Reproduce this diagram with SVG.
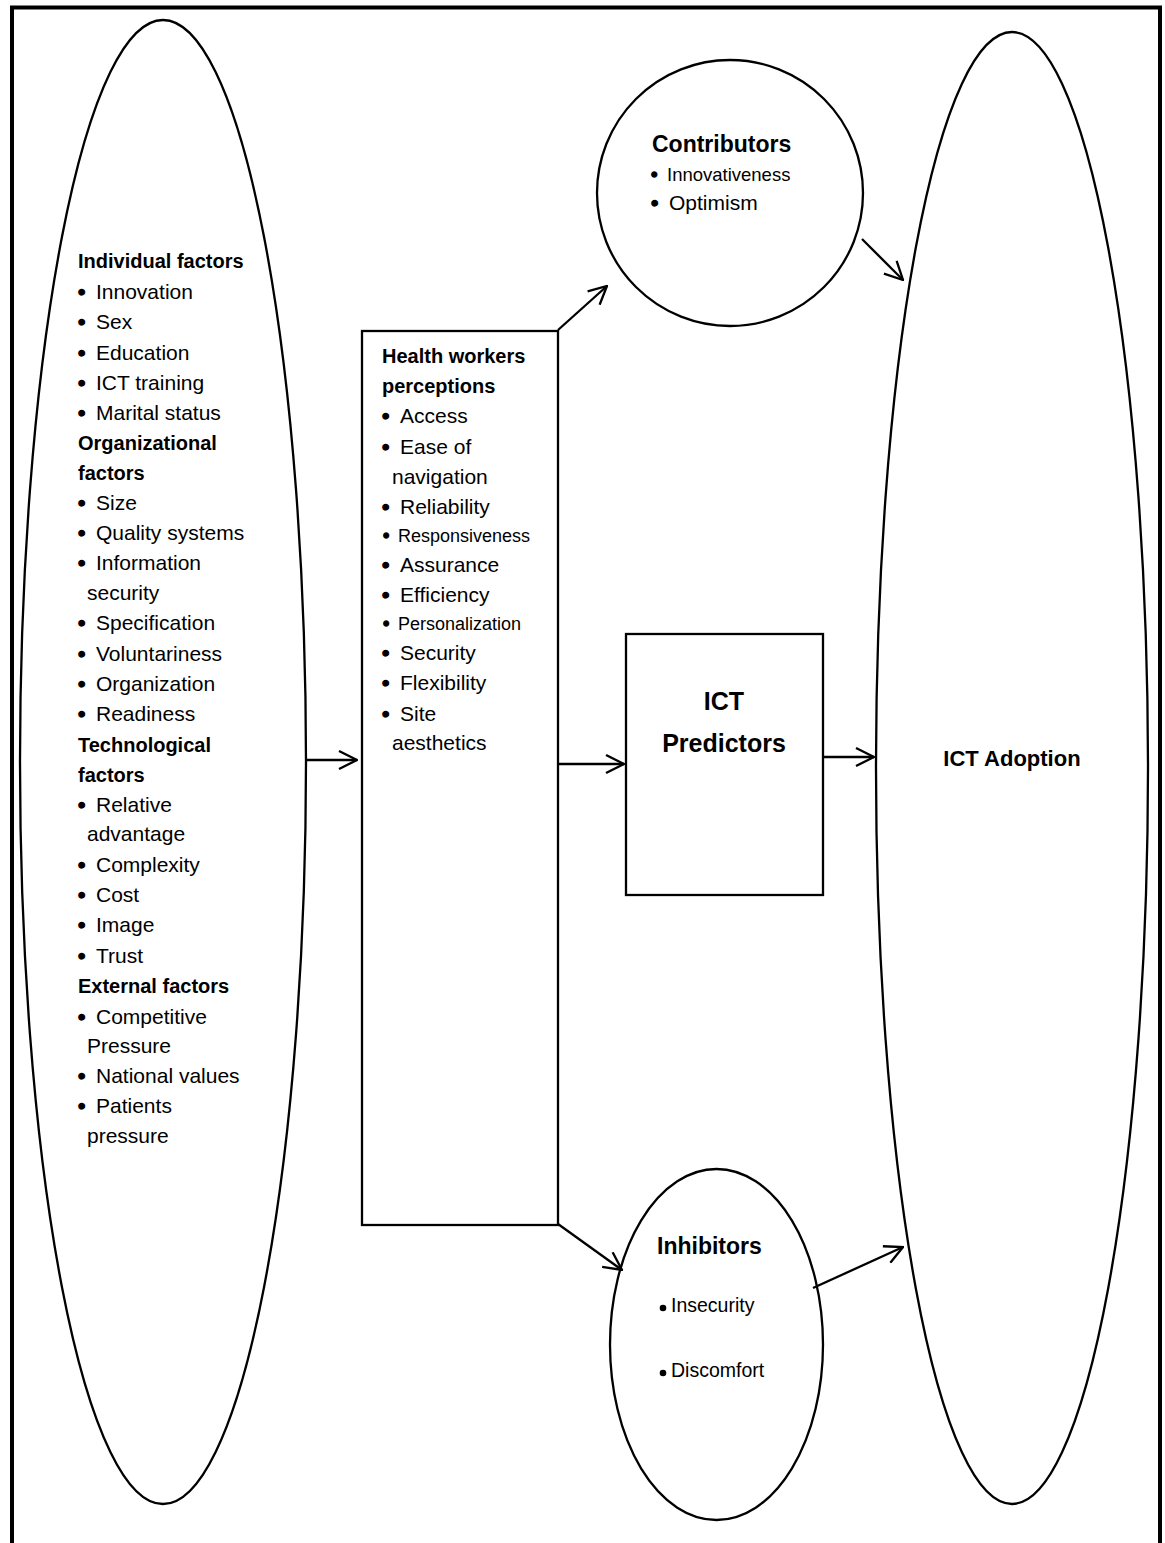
<svg xmlns="http://www.w3.org/2000/svg" width="1165" height="1543" viewBox="0 0 1165 1543">
<defs>
<style>
.sh{fill:#fff;stroke:#000;stroke-width:2.3}
.cn{stroke:#000;stroke-width:2.3;fill:none}
text{font-family:"Liberation Sans",Arial,sans-serif;fill:#000}
.b{font-weight:bold}
.r{font-size:21px}
.h{font-size:20px;font-weight:bold}
.s{font-size:18px}
.bu{stroke:#000;stroke-width:1.3}
</style>
<marker id="ah" viewBox="0 0 20 20" refX="19" refY="10" markerWidth="20" markerHeight="20" markerUnits="userSpaceOnUse" orient="auto">
<path d="M1,1 L19,10 L1,19" fill="none" stroke="#000" stroke-width="2.3"/>
</marker>
</defs>
<rect width="1165" height="1543" fill="#fff"/>
<path d="M12,1543 V7.5 H1160 V1543" fill="none" stroke="#000" stroke-width="4"/>

<g id="individual-factors">
<ellipse class="sh" cx="163" cy="762" rx="143" ry="742"/>
<text class="h" x="78" y="268">Individual factors</text>
<g class="r">
<text y="299"><tspan class="bu" x="78">•</tspan><tspan x="96">Innovation</tspan></text>
<text y="329"><tspan class="bu" x="78">•</tspan><tspan x="96">Sex</tspan></text>
<text y="360"><tspan class="bu" x="78">•</tspan><tspan x="96">Education</tspan></text>
<text y="390"><tspan class="bu" x="78">•</tspan><tspan x="96">ICT training</tspan></text>
<text y="420"><tspan class="bu" x="78">•</tspan><tspan x="96">Marital status</tspan></text>
</g>
<text class="h" x="78" y="450">Organizational</text>
<text class="h" x="78" y="480">factors</text>
<g class="r">
<text y="510"><tspan class="bu" x="78">•</tspan><tspan x="96">Size</tspan></text>
<text y="540"><tspan class="bu" x="78">•</tspan><tspan x="96">Quality systems</tspan></text>
<text y="570"><tspan class="bu" x="78">•</tspan><tspan x="96">Information</tspan></text>
<text x="87" y="600">security</text>
<text y="630"><tspan class="bu" x="78">•</tspan><tspan x="96">Specification</tspan></text>
<text y="661"><tspan class="bu" x="78">•</tspan><tspan x="96">Voluntariness</tspan></text>
<text y="691"><tspan class="bu" x="78">•</tspan><tspan x="96">Organization</tspan></text>
<text y="721"><tspan class="bu" x="78">•</tspan><tspan x="96">Readiness</tspan></text>
</g>
<text class="h" x="78" y="752">Technological</text>
<text class="h" x="78" y="782">factors</text>
<g class="r">
<text y="812"><tspan class="bu" x="78">•</tspan><tspan x="96">Relative</tspan></text>
<text x="87" y="841">advantage</text>
<text y="872"><tspan class="bu" x="78">•</tspan><tspan x="96">Complexity</tspan></text>
<text y="902"><tspan class="bu" x="78">•</tspan><tspan x="96">Cost</tspan></text>
<text y="932"><tspan class="bu" x="78">•</tspan><tspan x="96">Image</tspan></text>
<text y="963"><tspan class="bu" x="78">•</tspan><tspan x="96">Trust</tspan></text>
</g>
<text class="h" x="78" y="993">External factors</text>
<g class="r">
<text y="1024"><tspan class="bu" x="78">•</tspan><tspan x="96">Competitive</tspan></text>
<text x="87" y="1053">Pressure</text>
<text y="1083"><tspan class="bu" x="78">•</tspan><tspan x="96">National values</tspan></text>
<text y="1113"><tspan class="bu" x="78">•</tspan><tspan x="96">Patients</tspan></text>
<text x="87" y="1143">pressure</text>
</g>
</g>

<g id="health-workers-perceptions">
<rect class="sh" x="362" y="331" width="196" height="894"/>
<text class="h" x="382" y="363">Health workers</text>
<text class="h" x="382" y="393">perceptions</text>
<g class="r">
<text y="423"><tspan class="bu" x="382">•</tspan><tspan x="400">Access</tspan></text>
<text y="454"><tspan class="bu" x="382">•</tspan><tspan x="400">Ease of</tspan></text>
<text x="392" y="484">navigation</text>
<text y="514"><tspan class="bu" x="382">•</tspan><tspan x="400">Reliability</tspan></text>
<text class="s" y="542"><tspan class="bu" x="383">•</tspan><tspan x="398">Responsiveness</tspan></text>
<text y="572"><tspan class="bu" x="382">•</tspan><tspan x="400">Assurance</tspan></text>
<text y="602"><tspan class="bu" x="382">•</tspan><tspan x="400">Efficiency</tspan></text>
<text class="s" y="630"><tspan class="bu" x="383">•</tspan><tspan x="398">Personalization</tspan></text>
<text y="660"><tspan class="bu" x="382">•</tspan><tspan x="400">Security</tspan></text>
<text y="690"><tspan class="bu" x="382">•</tspan><tspan x="400">Flexibility</tspan></text>
<text y="721"><tspan class="bu" x="382">•</tspan><tspan x="400">Site</tspan></text>
<text x="392" y="750">aesthetics</text>
</g>
</g>

<g id="contributors">
<circle class="sh" cx="730" cy="193" r="133"/>
<text class="b" x="652" y="152" font-size="23">Contributors</text>
<text y="181" font-size="18.5"><tspan class="bu" x="651">•</tspan><tspan x="667">Innovativeness</tspan></text>
<text y="210" font-size="21"><tspan class="bu" x="651">•</tspan><tspan x="669">Optimism</tspan></text>
</g>

<g id="ict-predictors">
<rect class="sh" x="626" y="634" width="197" height="261"/>
<text class="b" x="724" y="710" font-size="25" text-anchor="middle">ICT</text>
<text class="b" x="724" y="752" font-size="25" text-anchor="middle">Predictors</text>
</g>

<g id="inhibitors">
<ellipse class="sh" cx="716.5" cy="1344.5" rx="106.5" ry="175.5"/>
<text class="b" x="657" y="1254" font-size="23">Inhibitors</text>
<circle cx="663" cy="1308" r="3.3"/>
<text x="671" y="1312" font-size="19.5">Insecurity</text>
<circle cx="663" cy="1373" r="3.3"/>
<text x="671" y="1377" font-size="19.5">Discomfort</text>
</g>

<g id="ict-adoption">
<ellipse class="sh" cx="1012" cy="768" rx="136" ry="736"/>
<text class="b" x="1012" y="766" font-size="22" text-anchor="middle">ICT Adoption</text>
</g>

<g id="connectors">
<line class="cn" x1="306" y1="760" x2="357" y2="760" marker-end="url(#ah)"/>
<line class="cn" x1="558" y1="764" x2="624" y2="764" marker-end="url(#ah)"/>
<line class="cn" x1="823" y1="757" x2="874" y2="757" marker-end="url(#ah)"/>
<line class="cn" x1="558" y1="330" x2="607" y2="286" marker-end="url(#ah)"/>
<line class="cn" x1="862" y1="239" x2="903" y2="280" marker-end="url(#ah)"/>
<line class="cn" x1="558" y1="1224" x2="622" y2="1270" marker-end="url(#ah)"/>
<line class="cn" x1="813" y1="1288" x2="903" y2="1247" marker-end="url(#ah)"/>
</g>
</svg>
